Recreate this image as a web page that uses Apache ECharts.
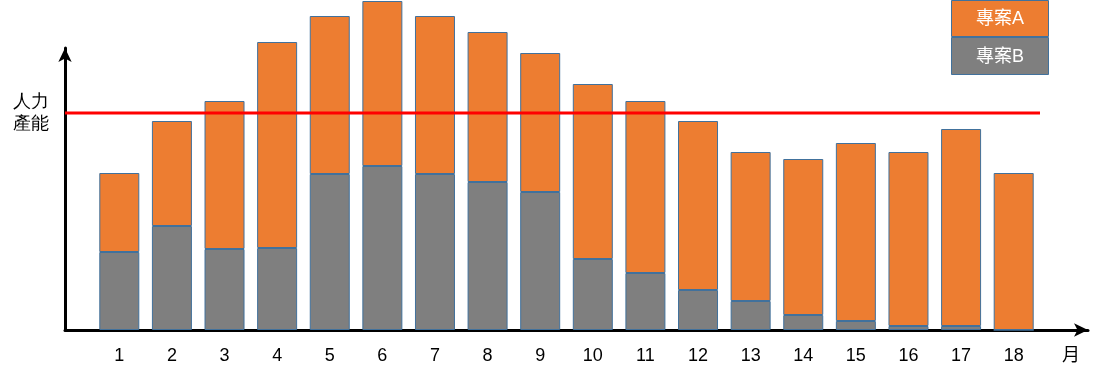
<!DOCTYPE html>
<html>
<head>
<meta charset="utf-8">
<script src="https://cdn.jsdelivr.net/npm/echarts@6/dist/echarts.min.js"></script>
<style>html,body{margin:0;padding:0;background:#fff}#c{width:1100px;height:378px}</style>
</head>
<body>
<div id="c"></div>
<script>
const months = ['1','2','3','4','5','6','7','8','9','10','11','12','13','14','15','16','17','18'];
const projectB = [78,104,81,82,156,164,156,148,138,71,57,40,29,15,9,4,4,0];
const projectA = [79,105,148,206,158,165,158,150,139,175,172,169,149,156,178,174,197,157];
const capacity = 217;
const yMax = 330;
const seriesNames = ['專案A','專案B'];
const yAxisName = '人力\n產能';
const xAxisName = '月';

const FONT = '"Liberation Sans", "Noto Sans CJK TC", sans-serif';
const ORANGE = '#ED7D31', GRAY = '#7F7F7F', EDGE = '#41719C';

const chart = echarts.init(document.getElementById('c'));
chart.setOption({
  animation: false,
  grid: [
    {left: 93, right: 60, top: 0, bottom: 48},
    {left: 65, right: 60, top: 0, bottom: 48},
    {left: 65, right: 12, top: 48, bottom: 48}
  ],
  xAxis: [
    {gridIndex: 0, type: 'category', data: months, axisLine: {show: false}, axisTick: {show: false},
     axisLabel: {fontSize: 18, color: '#000', fontFamily: FONT, margin: 17}},
    {gridIndex: 1, type: 'value', min: 0, max: 1, show: false},
    {gridIndex: 2, type: 'value', min: 0, max: 1, splitLine: {show: false}, axisTick: {show: false}, axisLabel: {show: false},
     axisLine: {show: true, lineStyle: {color: '#000', width: 3}, symbol: ['none', 'arrow'], symbolSize: [10, 14]},
     name: xAxisName, nameLocation: 'end', nameGap: -8,
     nameTextStyle: {fontSize: 18, color: '#000', fontFamily: FONT, verticalAlign: 'top', align: 'right', padding: [17, 0, 0, 0]}}
  ],
  yAxis: [
    {gridIndex: 0, type: 'value', min: 0, max: yMax, show: false},
    {gridIndex: 1, type: 'value', min: 0, max: yMax, show: false},
    {gridIndex: 2, type: 'value', min: 0, max: 1, splitLine: {show: false}, axisTick: {show: false}, axisLabel: {show: false},
     axisLine: {show: true, lineStyle: {color: '#000', width: 3}, symbol: ['none', 'arrow'], symbolSize: [10, 14]}}
  ],
  series: [
    {name: seriesNames[1], type: 'bar', stack: 's', xAxisIndex: 0, yAxisIndex: 0, data: projectB, barWidth: 40, clip: false,
     itemStyle: {color: GRAY, borderColor: EDGE, borderWidth: 1}},
    {name: seriesNames[0], type: 'bar', stack: 's', xAxisIndex: 0, yAxisIndex: 0, data: projectA, barWidth: 40, clip: false,
     itemStyle: {color: ORANGE, borderColor: EDGE, borderWidth: 1}},
    {type: 'line', xAxisIndex: 1, yAxisIndex: 1, data: [[0, capacity], [1, capacity]], symbol: 'none',
     lineStyle: {color: '#FF0000', width: 3}, z: 5}
  ],
  graphic: [
    {type: 'text', left: 13, top: 91, style: {text: yAxisName, fontSize: 18, lineHeight: 22, fill: '#000', font: '18px ' + FONT}},
    {type: 'group', left: 951, top: 0, children: [
      {type: 'rect', shape: {x: 0, y: 0, width: 97, height: 36}, style: {fill: ORANGE, stroke: EDGE, lineWidth: 1}},
      {type: 'text', x: 48.5, y: 19, style: {text: seriesNames[0], fill: '#fff', font: '18px ' + FONT, textAlign: 'center', textVerticalAlign: 'middle'}},
      {type: 'rect', shape: {x: 0, y: 37, width: 97, height: 37}, style: {fill: GRAY, stroke: EDGE, lineWidth: 1}},
      {type: 'text', x: 48.5, y: 57, style: {text: seriesNames[1], fill: '#fff', font: '18px ' + FONT, textAlign: 'center', textVerticalAlign: 'middle'}}
    ]}
  ]
});
</script>
</body>
</html>
